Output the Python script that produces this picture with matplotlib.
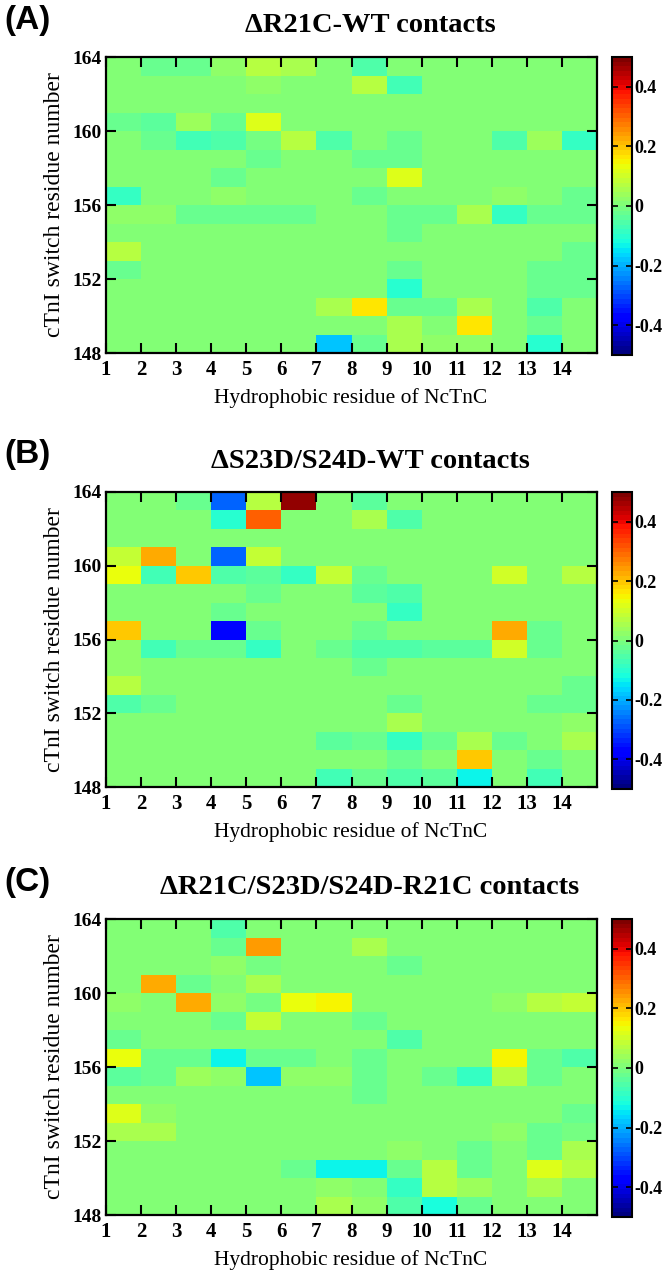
import numpy as np
import matplotlib
matplotlib.use("Agg")
import matplotlib.pyplot as plt

W, H = 671, 1276

# residue axes
ncTnC_res = np.arange(1, 16)        # column edges, 14 hydrophobic residues
cTnI_res = np.arange(148, 165)      # row edges, 148..164
x_ticks = list(range(1, 15))
y_ticks = [148, 152, 156, 160, 164]
cbar_ticks = [-0.4, -0.2, 0, 0.2, 0.4]

titles = ["\u0394R21C-WT contacts",
          "\u0394S23D/S24D-WT contacts",
          "\u0394R21C/S23D/S24D-R21C contacts"]
panel_tags = ["(A)", "(B)", "(C)"]

# contact differences, rows listed top (163) to bottom (148)
diff_A = [
    [0, -0.03, -0.03, 0.03, 0.07, 0.06, 0, -0.05, 0, 0, 0, 0, 0, 0],
    [0, 0, 0, 0, 0.02, 0, 0, 0.07, -0.07, 0, 0, 0, 0, 0],
    [0, 0, 0, 0, 0, 0, 0, 0, 0, 0, 0, 0, 0, 0],
    [-0.02, -0.04, 0.04, -0.03, 0.12, 0, 0, 0, 0, 0, 0, 0, 0, 0],
    [0.01, -0.03, -0.07, -0.05, -0.01, 0.07, -0.05, 0.01, -0.02, 0, 0, -0.05, 0.04, -0.08],
    [0, 0, 0, 0, -0.03, 0, 0, -0.02, -0.03, 0, 0, 0, 0, 0],
    [0, 0, 0, -0.03, 0, 0, 0, 0, 0.11, 0, 0, 0, 0, 0],
    [-0.09, 0, 0, 0.03, 0, 0, 0, -0.02, 0, 0, 0, 0.02, 0, -0.03],
    [0.02, 0.03, -0.03, -0.03, -0.03, -0.03, 0, 0, -0.03, -0.02, 0.06, -0.09, -0.02, -0.02],
    [0, 0, 0, 0, 0, 0, 0, 0, -0.03, 0, 0, 0, 0, 0],
    [0.07, 0, 0, 0, 0, 0, 0, 0, 0, 0, 0, 0, 0, -0.02],
    [-0.03, 0, 0, 0, 0, 0, 0, 0, -0.03, 0, 0, 0, -0.02, -0.03],
    [0, 0, 0, 0, 0, 0, 0, 0, -0.1, 0, 0, 0, -0.02, -0.03],
    [0, 0, 0, 0, 0, 0, 0.06, 0.17, -0.03, -0.03, 0.06, 0, -0.06, 0],
    [0, 0, 0, 0, 0, 0, 0, 0, 0.05, 0, 0.17, 0, -0.03, 0],
    [0, 0, 0, 0, 0, 0, -0.18, -0.03, 0.05, 0.02, 0.02, 0, -0.1, 0],
]
diff_B = [
    [0, 0, -0.02, -0.27, 0.07, 0.48, 0, -0.04, 0, 0, 0, 0, 0, 0],
    [0, 0, 0, -0.1, 0.3, 0, 0, 0.06, -0.06, 0, 0, 0, 0, 0],
    [0, 0, 0, 0, 0, 0, 0, 0, 0, 0, 0, 0, 0, 0],
    [0.08, 0.23, 0, -0.27, 0.08, 0, 0, 0, 0, 0, 0, 0, 0, 0],
    [0.13, -0.07, 0.19, -0.06, -0.04, -0.08, 0.09, -0.03, 0, 0, 0, 0.1, 0, 0.07],
    [0, 0, 0, 0, -0.02, 0, 0, -0.04, -0.05, 0, 0, 0, 0, 0],
    [0, 0, 0, -0.02, 0, 0, 0, 0, -0.09, 0, 0, 0, 0, 0],
    [0.2, 0, 0, -0.36, -0.03, 0, 0, -0.02, 0.01, 0, 0, 0.22, -0.03, 0],
    [0.02, -0.07, -0.03, -0.03, -0.08, 0, -0.03, -0.05, -0.05, -0.04, -0.04, 0.1, -0.03, 0],
    [0.02, 0, 0, 0, 0, 0, 0, -0.02, 0, 0, 0, 0, 0, 0],
    [0.07, 0, 0, 0, 0, 0, 0, 0, 0, 0, 0, 0, 0, -0.02],
    [-0.06, -0.03, 0, 0, 0, 0, 0, 0, -0.03, 0, 0, 0, -0.02, -0.03],
    [0, 0, 0, 0, 0, 0, 0, 0, 0.06, 0, 0, 0, 0, 0.02],
    [0, 0, 0, 0, 0, 0, -0.04, -0.02, -0.09, -0.02, 0.06, -0.03, 0, 0.06],
    [0, 0, 0, 0, 0, 0, 0, 0, -0.03, 0, 0.2, 0, -0.02, 0],
    [0, 0, 0, 0, 0, 0, -0.07, -0.02, -0.05, -0.04, -0.13, 0, -0.07, 0],
]
diff_C = [
    [0, 0, 0, -0.05, 0, 0, 0, 0, 0, 0, 0, 0, 0, 0],
    [0, 0, 0, -0.03, 0.24, 0, 0, 0.05, 0, 0, 0, 0, 0, 0],
    [0, 0, 0, 0.02, -0.01, 0, 0, 0, -0.03, 0, 0, 0, 0, 0],
    [0, 0.22, -0.03, 0, 0.05, 0, 0, 0, 0, 0, 0, 0, 0, 0],
    [0.02, 0, 0.23, 0.02, -0.01, 0.13, 0.15, 0, 0, 0, 0, 0.02, 0.07, 0.09],
    [0, 0, 0, -0.03, 0.08, 0, 0, -0.02, 0, 0, 0, 0, 0, 0],
    [-0.02, 0, 0, 0, 0, 0, 0, 0, -0.05, 0, 0, 0, 0, 0],
    [0.13, -0.02, -0.02, -0.13, -0.03, -0.02, 0, -0.02, 0, 0, 0, 0.15, -0.02, -0.05],
    [-0.04, -0.03, 0.04, 0.03, -0.18, 0.03, 0.03, -0.02, 0, -0.02, -0.09, 0.07, -0.03, 0.01],
    [0, 0, 0, 0, 0, 0, 0, -0.03, 0, 0, 0, 0, 0, 0],
    [0.12, 0.03, 0, 0, 0, 0, 0, 0, 0, 0, 0, 0, 0, -0.02],
    [0.06, 0.06, 0, 0, 0, 0, 0, 0, 0, 0, 0, 0.02, -0.03, -0.01],
    [0, 0, 0, 0, 0, 0, 0, 0, 0.02, 0, -0.02, 0, -0.03, 0.06],
    [0, 0, 0, 0, 0, -0.02, -0.13, -0.14, -0.03, 0.07, -0.02, 0, 0.11, 0.07],
    [0, 0, 0, 0, 0, 0, 0.03, 0.01, -0.08, 0.07, 0.04, 0, 0.05, 0],
    [0, 0, 0, 0, 0, 0, 0.06, 0.02, -0.05, -0.11, -0.03, 0, 0, 0],
]
panels = [diff_A, diff_B, diff_C]

# axes top/bottom in pixels for each panel
ax_top = [57, 492, 919]
ax_bot = [353, 787, 1215]
ax_left, ax_right = 106, 597
cb_left, cb_right = 612, 632

serif = "Liberation Serif"
sans = "Liberation Sans"
cmap = plt.get_cmap("jet", 64)

fig = plt.figure(figsize=(W / 100, H / 100), dpi=100)

def fx(px):
    return px / W

def fy(py):
    return 1 - py / H

for i in range(3):
    top, bot = ax_top[i], ax_bot[i]
    ax = fig.add_axes([fx(ax_left), fy(bot), fx(ax_right - ax_left), (bot - top) / H])
    data = np.flipud(np.array(panels[i]))
    mesh = ax.pcolormesh(ncTnC_res, cTnI_res, data, cmap=cmap, vmin=-0.5, vmax=0.5)
    ax.set_xlim(1, 15)
    ax.set_ylim(148, 164)
    ax.set_xticks(x_ticks)
    ax.set_yticks(y_ticks)
    ax.tick_params(direction="in", length=7, width=1.5, top=True, right=True)
    ax.tick_params(axis="x", labelsize=15, pad=5)
    ax.tick_params(axis="y", labelsize=14, pad=3)
    for lab in ax.get_xticklabels() + ax.get_yticklabels():
        lab.set_fontfamily(serif)
        lab.set_fontweight("bold")
    for sp in ax.spines.values():
        sp.set_linewidth(1.6)

    # colorbar
    cax = fig.add_axes([fx(cb_left), fy(bot + 2), fx(cb_right - cb_left), (bot - top + 2) / H])
    cb = fig.colorbar(mesh, cax=cax, ticks=cbar_ticks)
    cb.ax.set_yticklabels(["-0.4", "-0.2", "0", "0.2", "0.4"])
    cb.ax.tick_params(direction="in", length=4, width=1.2, left=True, right=True,
                      labelsize=13, pad=2)
    for lab in cb.ax.get_yticklabels():
        lab.set_fontfamily(serif)
        lab.set_fontweight("bold")
    cb.outline.set_linewidth(1.5)

    # labels
    fig.text(fx(370), fy(top - 31), titles[i], ha="center", va="center",
             fontsize=20.5, fontweight="bold", family=serif)
    fig.text(fx(4), fy(top - 37), panel_tags[i], ha="left", va="center",
             fontsize=24, fontweight="bold", family=sans)
    fig.text(fx(351), fy(bot + 45), "Hydrophobic residue of NcTnC", ha="center",
             va="center", fontsize=15.5, family=serif)
    fig.text(fx(55), fy((top + bot) / 2), "cTnI switch residue number", ha="center",
             va="center", rotation=90, fontsize=17, family=serif)

fig.savefig("out.png", dpi=100)
